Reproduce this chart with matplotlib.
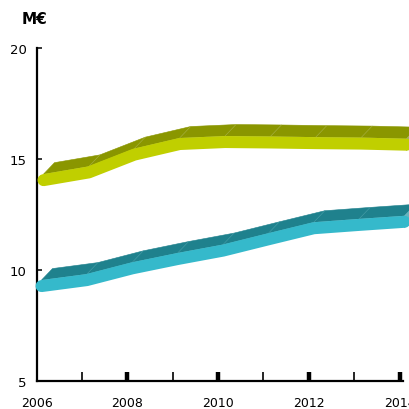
import matplotlib
matplotlib.use('Agg')
import matplotlib.pyplot as plt
import numpy as np
from matplotlib.patches import Polygon
from matplotlib.lines import Line2D

# ---- data ----
years = [2006, 2007, 2008, 2009, 2010, 2011, 2012, 2013, 2014]
green_vals = [14.05, 14.40, 15.20, 15.68, 15.77, 15.75, 15.72, 15.70, 15.65]
teal_vals = [9.27, 9.54, 10.07, 10.49, 10.87, 11.38, 11.88, 12.03, 12.17]
x_major = [2006, 2008, 2010, 2012, 2014]
x_major_labels = ['2006', '2008', '2010', '2012', '2014']
x_minor = [2007, 2009, 2011, 2013]
y_ticks = [5, 10, 15, 20]
unit_label = 'M€'

# ---- style ----
DPI = 100
W = 12.0      # ribbon thickness, px
DX, DY = 11.0, 11.5   # 3D depth offset, px

fig = plt.figure(figsize=(4.09, 4.10), dpi=DPI)
fig.patch.set_facecolor('white')
ax = fig.add_axes([36.5 / 409, (410 - 381.7) / 410, (409 - 36.5) / 409, (381.7 - 49.3) / 410])
ax.set_xlim(2006, 2014 + 9.5 / 45.375)
ax.set_ylim(5, 20)

for s in ['top', 'right']:
    ax.spines[s].set_visible(False)
for s in ['left', 'bottom']:
    ax.spines[s].set_linewidth(1.6)
    ax.spines[s].set_color('black')
ax.spines['bottom'].set_bounds(2006, 2014.07)

ax.set_xticks(x_major)
ax.set_xticklabels(x_major_labels)
ax.set_xticks(x_minor, minor=True)
ax.set_yticks(y_ticks)
ax.tick_params(axis='x', which='major', direction='in', length=6.5, width=3.2,
               pad=11, labelsize=9, colors='black')
ax.tick_params(axis='x', which='minor', direction='in', length=6.5, width=1.2)
ax.tick_params(axis='y', direction='in', length=3.6, width=1.1, pad=7, labelsize=9.5)
ax.xaxis.get_major_ticks()[0].tick1line.set_visible(False)


def ribbon(vals, front, dark, side, edge, shift_px):
    pts = ax.transData.transform(np.column_stack([years, vals]))
    pts[:, 0] += shift_px
    half = W / 2
    top = pts + np.array([0, half])
    back = top + np.array([DX, DY])
    inv = ax.transData.inverted()
    poly = np.vstack([top, back[::-1]])
    ax.add_patch(Polygon(inv.transform(poly), closed=True, fc=dark, ec=dark,
                         lw=0.4, clip_on=False, zorder=3))
    end = np.array([pts[-1] + [0, half], back[-1], back[-1] + [0, -W],
                    pts[-1] + [0, -half]])
    ax.add_patch(Polygon(inv.transform(end), closed=True, fc=side, ec=side,
                         lw=0.4, clip_on=False, zorder=3))
    for a, b in zip(top[1:-1], back[1:-1]):
        seg = inv.transform(np.array([a, b]))
        ax.add_line(Line2D(seg[:, 0], seg[:, 1], color=edge, lw=0.4,
                           zorder=4, clip_on=False))
    fp = inv.transform(pts)
    ax.plot(fp[:, 0], fp[:, 1], color=front, lw=W * 72 / DPI,
            solid_capstyle='round', solid_joinstyle='round', zorder=5,
            clip_on=False)


ribbon(green_vals, '#c0cf00', '#8a9600', '#a9b25a', '#a9b34a', 7)
ribbon(teal_vals, '#35b9cb', '#1f818d', '#66b4be', '#4a9fa9', 5)

fig.text(22 / 409, 1 - 20 / 410, unit_label, ha='left', va='center',
         fontsize=11, fontweight='bold', color='black')

fig.savefig('out.png', dpi=DPI, facecolor='white')
